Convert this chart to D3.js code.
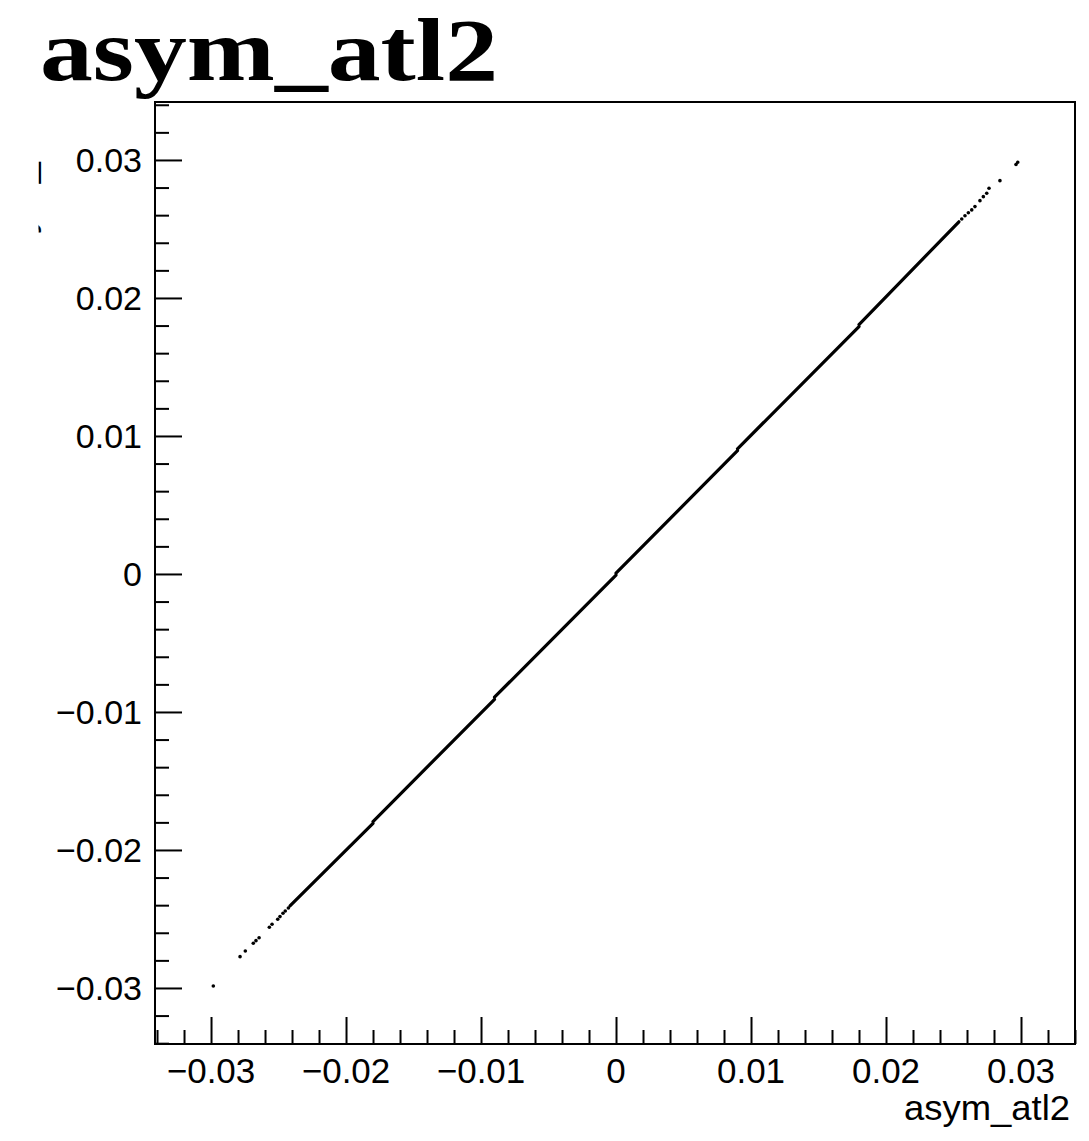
<!DOCTYPE html>
<html>
<head>
<meta charset="utf-8">
<script src="https://cdn.jsdelivr.net/npm/d3@7"></script>
<style>
  html, body { margin: 0; padding: 0; background: #fff; }
  svg { display: block; }
</style>
</head>
<body>
<svg id="chart" width="1089" height="1141"></svg>
<script>
// ---- data -------------------------------------------------------------
const titleText = "asym_atl2";
const xTitle = "asym_atl2";
const yTitle = "asym_atl2";

const xMajorTicks = [-0.03, -0.02, -0.01, 0, 0.01, 0.02, 0.03];
const yMajorTicks = [-0.03, -0.02, -0.01, 0, 0.01, 0.02, 0.03];
const tickLabels  = ["\u22120.03", "\u22120.02", "\u22120.01", "0", "0.01", "0.02", "0.03"];
const minorTicks  = [-0.034, -0.032, -0.028, -0.026, -0.024, -0.022, -0.018, -0.016, -0.014, -0.012,
                     -0.008, -0.006, -0.004, -0.002, 0.002, 0.004, 0.006, 0.008,
                     0.012, 0.014, 0.016, 0.018, 0.022, 0.024, 0.026, 0.028, 0.032, 0.034];

// dense core of the scatter: runs of overlapping points, one [start, end] pair per run
const coreRuns = [
  [[-0.02415, -0.02405], [-0.01800, -0.01808]],
  [[-0.01800, -0.01794], [-0.00900, -0.00908]],
  [[-0.00900, -0.00893], [ 0.00000, -0.00008]],
  [[ 0.00000,  0.00006], [ 0.00900,  0.00893]],
  [[ 0.00900,  0.00907], [ 0.01800,  0.01793]],
  [[ 0.01800,  0.01807], [ 0.02540,  0.02552]]
];

// isolated points in the low tail
const lowTailX = [-0.02983, -0.02785, -0.02746, -0.02687, -0.02667, -0.02644, -0.02568,
                  -0.02548, -0.02506, -0.02489, -0.02467, -0.02450, -0.02427];
const lowTailY = [-0.02986, -0.02773, -0.02732, -0.02676, -0.02657, -0.02636, -0.02560,
                  -0.02538, -0.02502, -0.02483, -0.02459, -0.02442, -0.02420];

// isolated points in the high tail
const highTailX = [0.02976, 0.02963, 0.02844, 0.02763, 0.02746, 0.02721, 0.02696,
                   0.02659, 0.02635, 0.02610, 0.02585, 0.02561];
const highTailY = [0.02983, 0.02967, 0.02850, 0.02795, 0.02759, 0.02734, 0.02705,
                   0.02662, 0.02638, 0.02618, 0.02596, 0.02572];

// ---- layout -----------------------------------------------------------
const frame = { left: 155, right: 1075, top: 102, bottom: 1044 };
const svg = d3.select("#chart");

const x = d3.scaleLinear().domain([-0.03415, 0.0340]).range([frame.left, frame.right]);
const y = d3.scaleLinear().domain([-0.03406, 0.0342]).range([frame.bottom, frame.top]);

svg.append("rect").attr("width", 1089).attr("height", 1141).attr("fill", "#fff");

const sans = "'Liberation Sans', Arial, Helvetica, sans-serif";

// ---- axes -------------------------------------------------------------
const majorLen = 27, minorLen = 14;
const fmt = d => tickLabels[xMajorTicks.indexOf(d)];

const xAxisMajor = d3.axisTop(x).tickValues(xMajorTicks).tickSize(majorLen).tickFormat("");
const xAxisMinor = d3.axisTop(x).tickValues(minorTicks).tickSize(minorLen).tickFormat("");
const yAxisMajor = d3.axisRight(y).tickValues(yMajorTicks).tickSize(majorLen).tickFormat("");
const yAxisMinor = d3.axisRight(y).tickValues(minorTicks).tickSize(minorLen).tickFormat("");

function styleAxis(g) {
  g.select(".domain").remove();
  g.selectAll("line").attr("stroke", "#000").attr("stroke-width", 2);
}
svg.append("g").attr("transform", `translate(0,${frame.bottom})`).call(xAxisMajor).call(styleAxis);
svg.append("g").attr("transform", `translate(0,${frame.bottom})`).call(xAxisMinor).call(styleAxis);
svg.append("g").attr("transform", `translate(${frame.left},0)`).call(yAxisMajor).call(styleAxis);
svg.append("g").attr("transform", `translate(${frame.left},0)`).call(yAxisMinor).call(styleAxis);

// tick labels
svg.append("g").selectAll("text").data(xMajorTicks).join("text")
  .attr("x", d => x(d)).attr("y", 1083)
  .attr("text-anchor", "middle")
  .attr("font-family", sans).attr("font-size", 35).attr("fill", "#000")
  .text(fmt);

svg.append("g").selectAll("text").data(yMajorTicks).join("text")
  .attr("x", 142).attr("y", d => y(d) + 12)
  .attr("text-anchor", "end")
  .attr("font-family", sans).attr("font-size", 34).attr("fill", "#000")
  .text(d => tickLabels[yMajorTicks.indexOf(d)]);

// frame
svg.append("rect")
  .attr("x", frame.left).attr("y", frame.top)
  .attr("width", frame.right - frame.left).attr("height", frame.bottom - frame.top)
  .attr("fill", "none").attr("stroke", "#000").attr("stroke-width", 2);

// ---- scatter ----------------------------------------------------------
const line = d3.line().x(d => x(d[0])).y(d => y(d[1]));
svg.append("g").selectAll("path").data(coreRuns).join("path")
  .attr("d", line)
  .attr("fill", "none").attr("stroke", "#000").attr("stroke-width", 3.2)
  .attr("stroke-linecap", "round");

const tails = lowTailX.map((v, i) => [v, lowTailY[i]])
  .concat(highTailX.map((v, i) => [v, highTailY[i]]));
svg.append("g").selectAll("circle").data(tails).join("circle")
  .attr("cx", d => x(d[0])).attr("cy", d => y(d[1])).attr("r", 1.8)
  .attr("fill", "#000");

// ---- titles -----------------------------------------------------------
svg.append("text")
  .attr("x", 40).attr("y", 80)
  .attr("font-family", "'Liberation Serif', 'Times New Roman', serif")
  .attr("font-weight", "bold").attr("font-size", 88).attr("fill", "#000")
  .attr("textLength", 458).attr("lengthAdjust", "spacingAndGlyphs")
  .text(titleText);

svg.append("text")
  .attr("x", 1070).attr("y", 1120)
  .attr("text-anchor", "end")
  .attr("font-family", sans).attr("font-size", 35).attr("fill", "#000")
  .attr("textLength", 166).attr("lengthAdjust", "spacingAndGlyphs")
  .text(xTitle);

// y title sits against the page's left edge; only a sliver of it shows
svg.append("clipPath").attr("id", "ytitle-clip")
  .append("rect").attr("x", 38.5).attr("y", 100).attr("width", 5).attr("height", 200);
svg.append("g").attr("clip-path", "url(#ytitle-clip)")
  .append("text")
  .attr("transform", "translate(33.2,274) rotate(-90)")
  .attr("font-family", sans).attr("font-size", 38).attr("fill", "#000")
  .text(yTitle);
</script>
</body>
</html>
